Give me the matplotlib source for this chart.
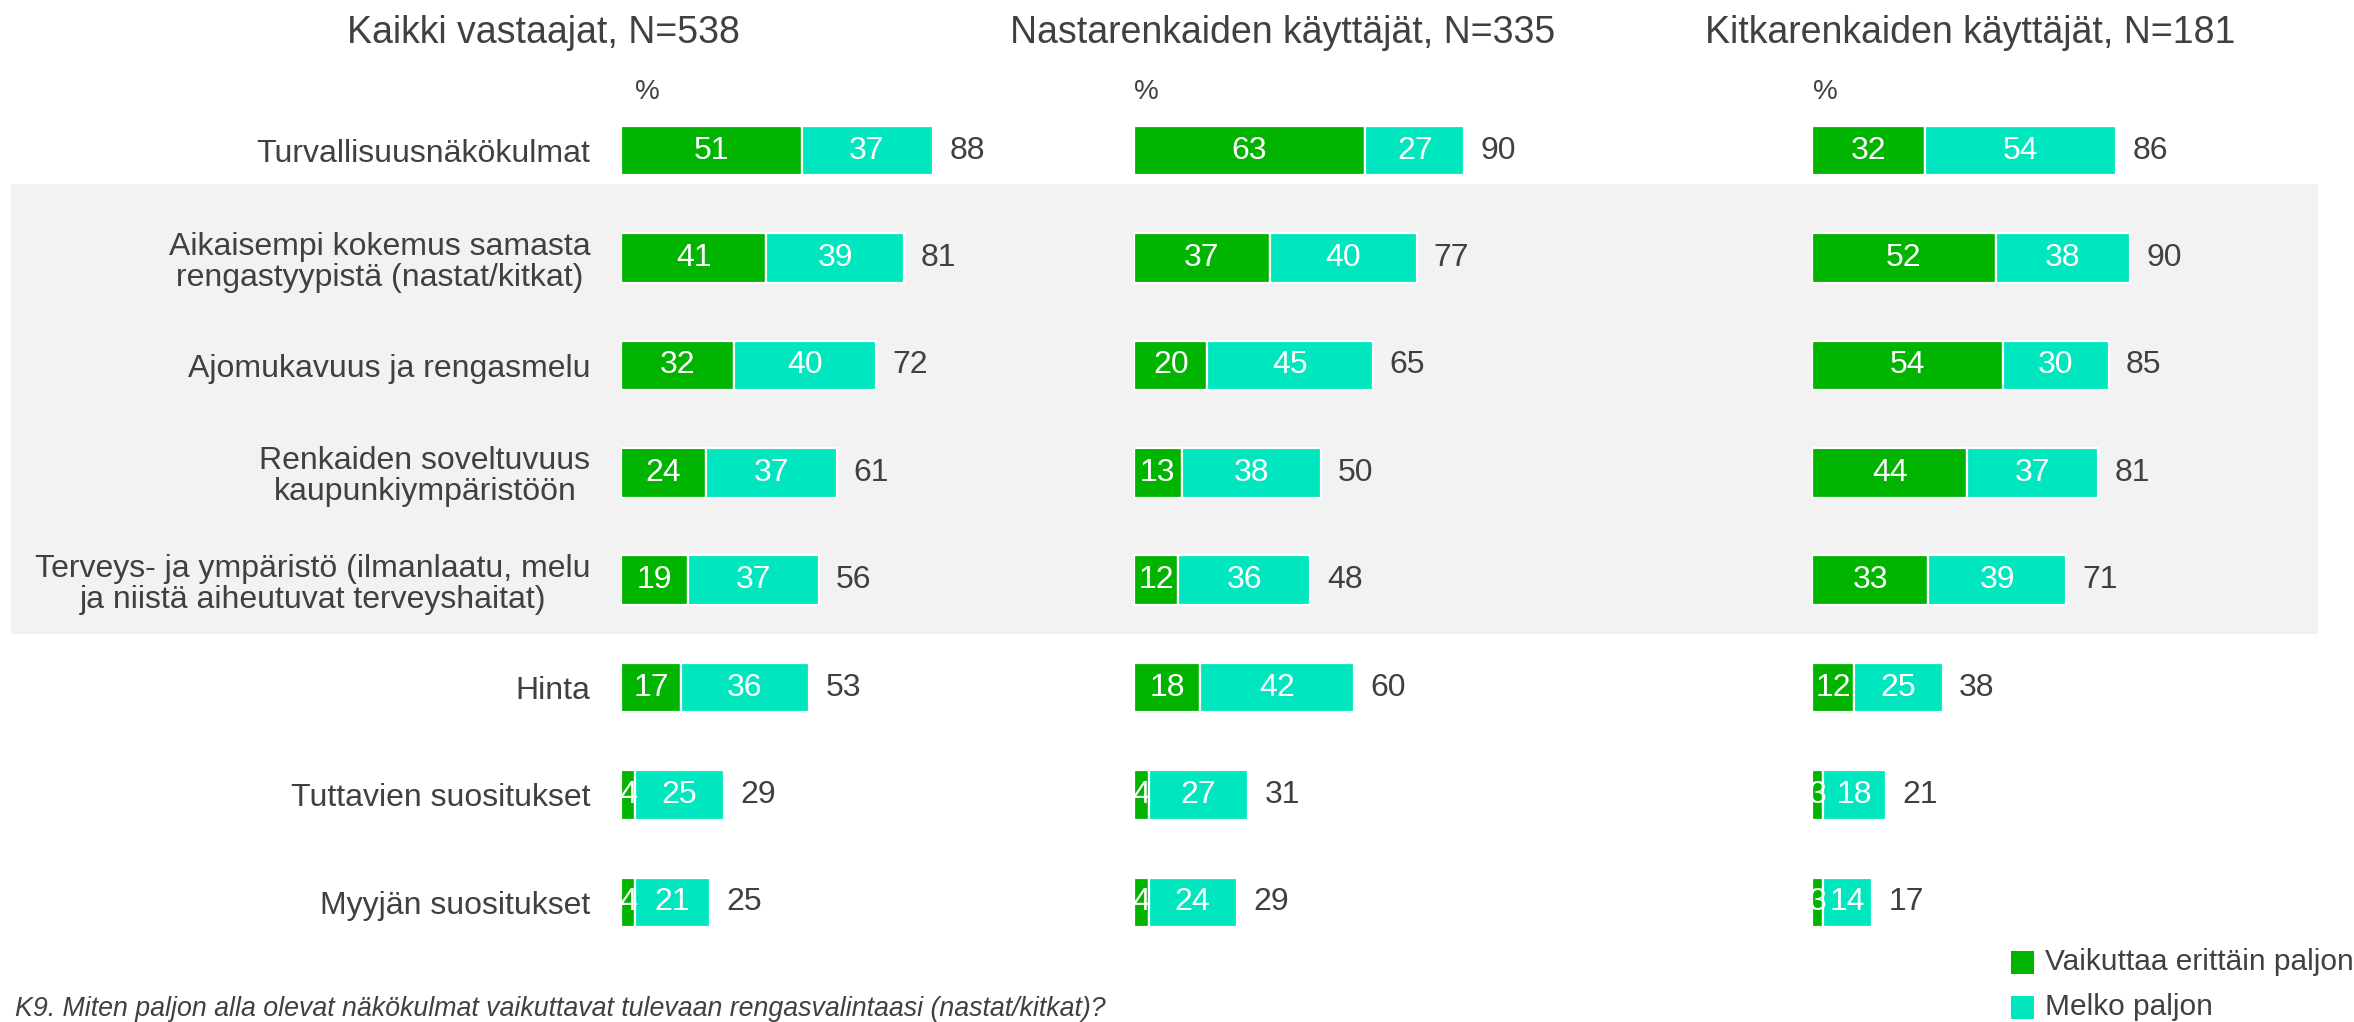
import matplotlib
matplotlib.use('Agg')
import matplotlib.pyplot as plt
from matplotlib.patches import Rectangle
from matplotlib.transforms import blended_transform_factory

plt.rcParams['font.family'] = ['Liberation Sans', 'DejaVu Sans']

# Data
categories = [
    "Turvallisuusnäkökulmat",
    "Aikaisempi kokemus samasta\nrengastyypistä (nastat/kitkat)",
    "Ajomukavuus ja rengasmelu",
    "Renkaiden soveltuvuus\nkaupunkiympäristöön",
    "Terveys- ja ympäristö (ilmanlaatu, melu\nja niistä aiheutuvat terveyshaitat)",
    "Hinta",
    "Tuttavien suositukset",
    "Myyjän suositukset",
]
panel_titles = ["Kaikki vastaajat, N=538", "Nastarenkaiden käyttäjät, N=335",
                "Kitkarenkaiden käyttäjät, N=181"]
series_names = ["Vaikuttaa erittäin paljon", "Melko paljon"]

kaikki_paljon = [51, 41, 32, 24, 19, 17, 4, 4]
kaikki_melko = [37, 39, 40, 37, 37, 36, 25, 21]
kaikki_yht = [88, 81, 72, 61, 56, 53, 29, 25]

nasta_paljon = [63, 37, 20, 13, 12, 18, 4, 4]
nasta_melko = [27, 40, 45, 38, 36, 42, 27, 24]
nasta_yht = [90, 77, 65, 50, 48, 60, 31, 29]

kitka_paljon = [32, 52, 54, 44, 33, 12, 3, 3]
kitka_melko = [54, 38, 30, 37, 39, 25, 18, 14]
kitka_yht = [86, 90, 85, 81, 71, 38, 21, 17]

footnote = "K9. Miten paljon alla olevat näkökulmat vaikuttavat tulevaan rengasvalintaasi (nastat/kitkat)?"

GREEN = '#00B400'
TEAL = '#00E6BE'
TXT = '#404040'
W, H = 2354, 1022

fig = plt.figure(figsize=(W / 100, H / 100), dpi=100)

# axes layout in pixels: (left, width)
layout = [(621, 354), (1134, 367), (1812, 353)]
top_px, bot_px = 97, 956
panels = [(kaikki_paljon, kaikki_melko, kaikki_yht),
          (nasta_paljon, nasta_melko, nasta_yht),
          (kitka_paljon, kitka_melko, kitka_yht)]
title_x = [543, 1283, 1970]
pct_x = [635, 1134, 1813]

y = list(range(len(categories)))
axes = []
for i, ((left, width), (p, m, t)) in enumerate(zip(layout, panels)):
    ax = fig.add_axes([left / W, 1 - bot_px / H, width / W, (bot_px - top_px) / H])
    ax.patch.set_alpha(0)
    b1 = ax.barh(y, p, height=0.46, color=GREEN, edgecolor='white', linewidth=1.6)
    b2 = ax.barh(y, m, left=p, height=0.46, color=TEAL, edgecolor='white', linewidth=1.6)
    ax.bar_label(b1, labels=[str(v) for v in p], label_type='center', color='white', fontsize=23)
    ax.bar_label(b2, labels=[str(v) for v in m], label_type='center', color='white', fontsize=23)
    ax.bar_label(b2, labels=[str(v) for v in t], padding=12, color=TXT, fontsize=23)
    ax.set_xlim(0, 100)
    ax.set_ylim(len(categories) - 0.5, -0.5)
    for s in ax.spines.values():
        s.set_visible(False)
    ax.set_xticks([])
    if i == 0:
        ax.set_yticks(y)
        ax.set_yticklabels(categories, fontsize=23, color=TXT, linespacing=1.05,
                           multialignment='center')
        ax.tick_params(axis='y', length=0, pad=22)
    else:
        ax.set_yticks([])
    fig.text(title_x[i] / W, 1 - 33 / H, panel_titles[i], ha='center', va='center',
             fontsize=27, color=TXT)
    fig.text(pct_x[i] / W, 1 - 92 / H, '%', ha='left', va='center', fontsize=20, color=TXT)
    axes.append((ax, b1, b2))

# grey band behind rows 2-5
ax1 = axes[0][0]
tr = blended_transform_factory(fig.transFigure, ax1.transData)
band = Rectangle((11 / W, 0.31), (2318 - 11) / W, 4.19, transform=tr,
                 facecolor='#F2F2F2', edgecolor='none', zorder=-10)
fig.patches.append(band)

# legend drawn by hand at bottom right
leg_y = [962, 1007]
for name, col, ly in zip(series_names, [GREEN, TEAL], leg_y):
    fig.patches.append(Rectangle((2011 / W, 1 - (ly + 11.5) / H), 23 / W, 23 / H,
                                 transform=fig.transFigure, facecolor=col, edgecolor='none'))
    fig.text(2045 / W, 1 - ly / H, name, ha='left', va='center', fontsize=21.5, color=TXT)

fig.text(15 / W, 1 - 1009 / H, footnote, ha='left', va='center', fontsize=19.3,
         style='italic', color=TXT)

fig.savefig('out.png', dpi=100, facecolor='white')
